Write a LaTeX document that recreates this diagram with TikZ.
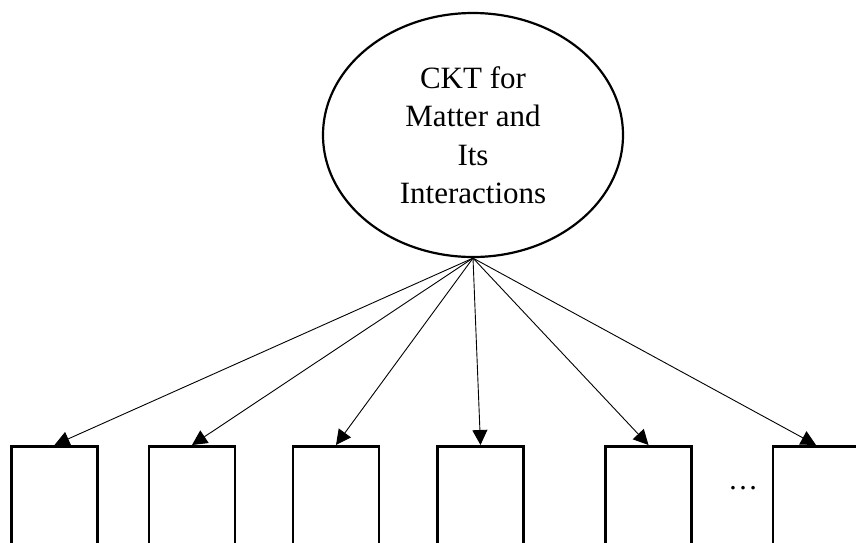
\documentclass[tikz,border=0pt]{standalone}
\usepackage{fontspec}
\setmainfont{Liberation Serif}
\usetikzlibrary{shapes.geometric,arrows.meta}
\begin{document}
\begin{tikzpicture}[x=1pt,y=-1pt,
  topnode/.style={draw, line width=2.2pt, ellipse, minimum width=300pt, minimum height=244pt, inner sep=0pt, align=center, font=\fontsize{31}{38.5}\selectfont},
  leaf/.style={draw, line width=2.6pt, anchor=north, minimum width=86pt, minimum height=140pt, inner sep=0pt},
  arr/.style={line width=0.9pt, -{Triangle[length=15pt,width=15pt]}}]
\useasboundingbox (0,0) rectangle (856,542);
\clip (0,0) rectangle (856,542);
\node[topnode] (top) at (473,135) {CKT for\\Matter and\\Its\\Interactions};
\node[leaf] (b1) at (54.5,445) {};
\node[leaf] (b2) at (192,445) {};
\node[leaf] (b3) at (336,445) {};
\node[leaf] (b4) at (480.5,445) {};
\node[leaf] (b5) at (648.5,445) {};
\node[leaf] (b6) at (816,445) {};
\node[font=\fontsize{30}{32}\selectfont, inner sep=0pt] (dots) at (743,488) {…};
\foreach \b in {b1,b2,b3,b4,b5,b6}
  \draw[arr] (top.south) -- (\b.north);
\end{tikzpicture}
\end{document}
